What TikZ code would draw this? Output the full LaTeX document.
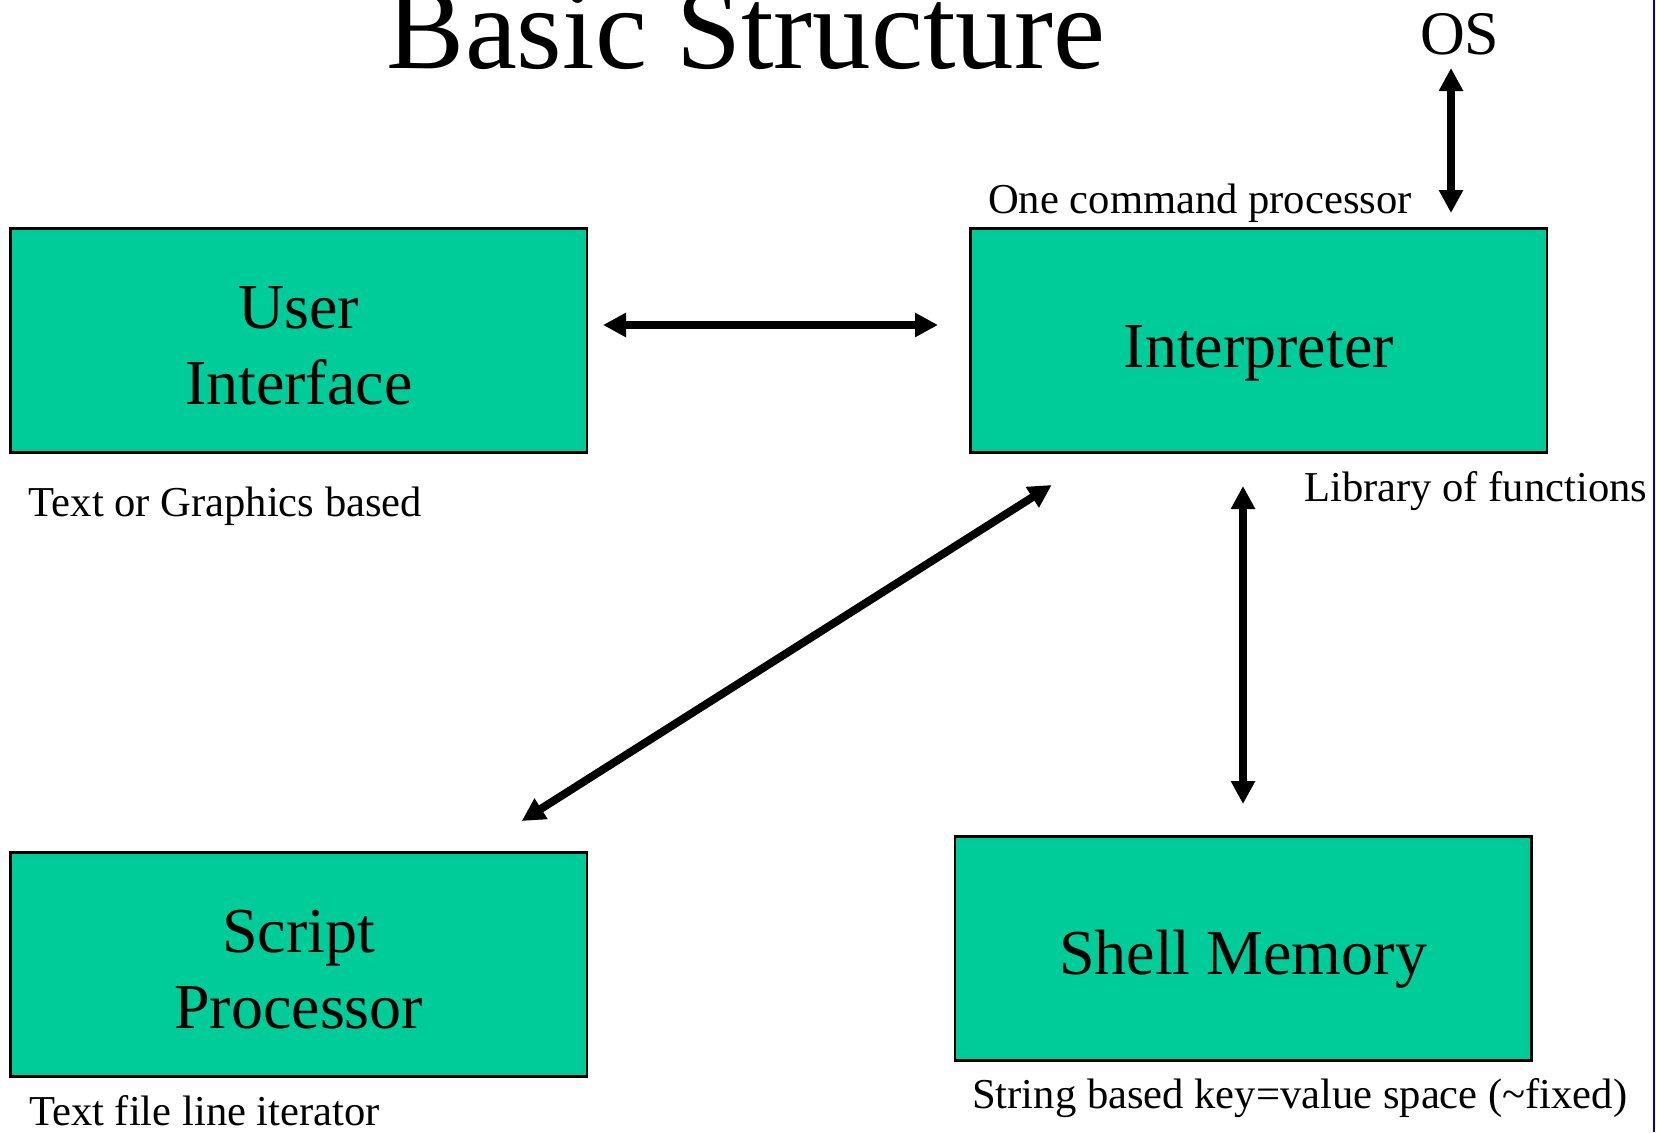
\documentclass[tikz,border=0pt]{standalone}
\usepackage{fontspec}
\setmainfont{Liberation Serif}
\usetikzlibrary{arrows.meta}
\definecolor{boxgreen}{RGB}{0,204,153}
\definecolor{edgeblue}{RGB}{0,0,200}
\tikzset{
  box/.style={draw=black, line width=2.5pt, fill=boxgreen, minimum width=576.5pt, minimum height=224pt, inner sep=0pt, outer sep=0pt},
  boxtext/.style={font=\fontsize{64}{77}\selectfont, anchor=base, inner sep=0pt},
  small/.style={font=\fontsize{42.6}{50}\selectfont, anchor=base west, inner sep=0pt},
  dbl/.style={line width=8pt, {Triangle[length=23pt,width=23pt]}-{Triangle[length=23pt,width=23pt]}}
}
\begin{document}
\begin{tikzpicture}[x=1pt,y=-1pt]
\useasboundingbox (0,0) rectangle (1656,1132);
\fill[white] (0,0) rectangle (1656,1132);
\draw[edgeblue, line width=2pt] (1653.5,0) -- (1653.5,1132);

% title and OS
\node[font=\fontsize{117}{130}\selectfont, anchor=base, inner sep=0pt] (title) at (746,68) {Basic Structure};
\node[font=\fontsize{62}{70}\selectfont, anchor=base west, inner sep=0pt] (os) at (1420,55) {OS};

% boxes
\node[box] (ui) at (298.75,340.5) {};
\node[box] (interp) at (1258.75,340.5) {};
\node[box] (sp) at (298.75,964.7) {};
\node[box] (sm) at (1243,948.7) {};

\node[boxtext] (uiA) at (298.75,328.3) {User};
\node[boxtext] (uiB) at (298.75,404) {Interface};
\node[boxtext] (interpT) at (1258.75,367) {Interpreter};
\node[boxtext] (spA) at (298.75,952.7) {Script};
\node[boxtext] (spB) at (298.75,1028.7) {Processor};
\node[boxtext] (smT) at (1243,974) {Shell Memory};

% labels
\node[small] (lblcmd) at (988,213) {One command processor};
\node[small] (lblui) at (28.5,516.7) {Text or Graphics based};
\node[small] (lbllib) at (1304,501.7) {Library of functions};
\node[small] (lblsp) at (29,1125) {Text file line iterator};
\node[small] (lblsm) at (972,1108) {String based key=value space (\char`\~fixed)};

% arrow end points
\coordinate (osA) at (1451,68);
\coordinate (osB) at (1451,213);
\coordinate (uiE) at (603,325);
\coordinate (inW) at (938,325);
\coordinate (inSW) at (1051.7,485);
\coordinate (spNE) at (521.7,821);
\coordinate (inS) at (1243,486);
\coordinate (smN) at (1243,804);

\draw[dbl] (osA) -- (osB);
\draw[dbl] (uiE) -- (inW);
\draw[dbl] (inSW) -- (spNE);
\draw[dbl] (inS) -- (smN);
\end{tikzpicture}
\end{document}
